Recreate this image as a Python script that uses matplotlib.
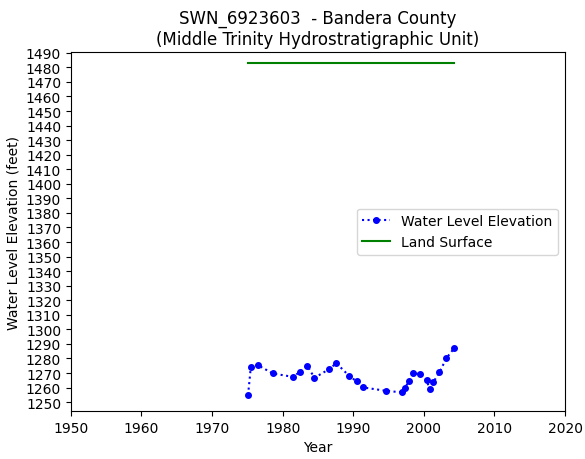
import matplotlib
matplotlib.use("Agg")
import matplotlib.pyplot as plt
import numpy as np

years = [1975.1, 1975.5, 1976.5, 1978.6, 1981.4, 1982.5, 1983.5, 1984.5,
         1986.6, 1987.6, 1989.4, 1990.5, 1991.4, 1994.6, 1996.9, 1997.3,
         1997.9, 1998.5, 1999.5, 2000.4, 2000.8, 2001.3, 2002.2, 2003.2, 2004.3]
elevation = [1254.8, 1274.3, 1275.4, 1269.7, 1267.4, 1270.8, 1275.0, 1266.7,
             1272.7, 1276.8, 1268.1, 1264.2, 1260.1, 1257.8, 1256.7, 1259.6,
             1264.6, 1269.7, 1269.3, 1265.1, 1258.9, 1263.5, 1270.4, 1280.3, 1287.1]

land_years = [1975.1, 2004.3]
land_surface = [1483.0, 1483.0]

fig = plt.figure(figsize=(5.85, 4.6), dpi=100)
ax = fig.add_axes([0.121, 0.104, 0.845, 0.781])

ax.plot(years, elevation, color='blue', linestyle=':', marker='o', markersize=4,
        linewidth=1.5, label='Water Level Elevation')
ax.plot(land_years, land_surface, color='green', linewidth=1.5, label='Land Surface')

ax.set_xlim(1950, 2020)
ax.set_xticks(np.arange(1950, 2021, 10))
ax.set_ylim(1243.8, 1490.6)
ax.set_yticks(np.arange(1250, 1491, 10))

ax.set_xlabel('Year')
ax.set_ylabel('Water Level Elevation (feet)')
ax.set_title('SWN_6923603  - Bandera County\n(Middle Trinity Hydrostratigraphic Unit)', fontsize=12)
ax.legend(loc='center right')

plt.savefig('out.png', dpi=100)
